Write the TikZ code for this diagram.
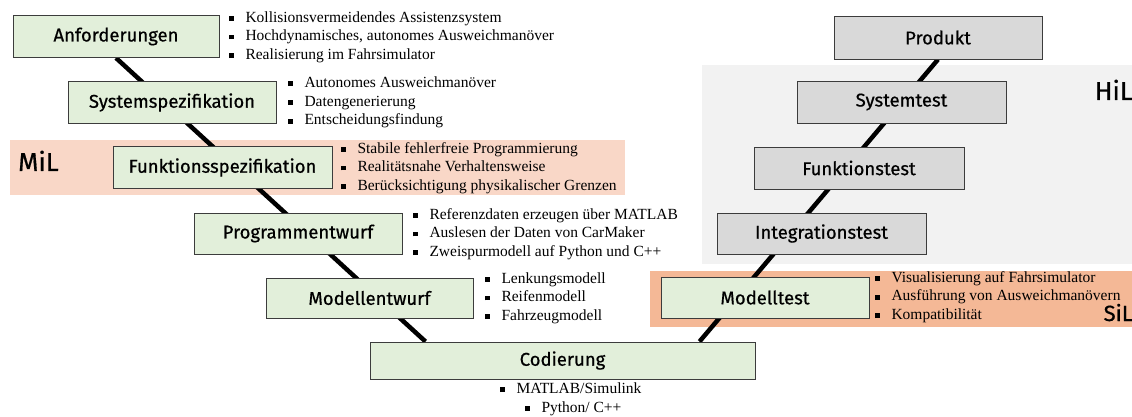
\documentclass[tikz,border=0pt]{standalone}
\usepackage{fontspec}
\setmainfont{Liberation Serif}
\newfontfamily\dinfont[FakeBold=0.6]{Fira Sans}
\usepackage{xcolor}
\usetikzlibrary{positioning, calc}
\pgfdeclarelayer{baender}
\pgfdeclarelayer{linien}
\pgfsetlayers{baender,linien,main}
\definecolor{gruen}{RGB}{226,239,218}
\definecolor{grau}{RGB}{217,217,217}
\definecolor{rahmen}{RGB}{60,60,60}
\definecolor{milfarbe}{RGB}{249,215,199}
\definecolor{hilfarbe}{RGB}{242,242,242}
\definecolor{silfarbe}{RGB}{244,184,150}
\newcommand{\blt}{\rule[1.3pt]{4.8pt}{4.8pt}\hspace{11.5pt}}

\begin{document}
\begin{tikzpicture}[x=1pt, y=-1pt,
    stufe/.style={draw=rahmen, line width=0.9pt, fill=gruen, minimum width=207pt,
        minimum height=42pt, inner sep=0pt, font=\dinfont\fontsize{18.5}{21}\selectfont},
    test/.style={stufe, fill=grau},
    punkte/.style={anchor=west, align=left, inner sep=0pt,
        font=\fontsize{15.5}{18.7}\selectfont},
    ebene/.style={inner sep=0pt, font=\dinfont\fontsize{26}{28}\selectfont},
    vlinie/.style={line width=4.5pt}]
\useasboundingbox (0,0) rectangle (1132,417);

% Testebenen
\begin{pgfonlayer}{baender}
\fill[milfarbe] (10,140) rectangle (625,195);
\fill[hilfarbe] (702,65) rectangle (1132,264);
\fill[silfarbe] (650,271) rectangle (1132,327);
\end{pgfonlayer}
\node[ebene, anchor=base west] (mil) at (18,171) {MiL};
\node[ebene, anchor=base east] (hil) at (1133,100) {HiL};
\node[ebene, anchor=base east, font=\dinfont\fontsize{22}{24}\selectfont] (sil) at (1133,321) {SiL};

% linker Ast
\node[stufe, minimum width=206pt] (anf) at (116,36.5) {Anforderungen};
\node[stufe, minimum width=208pt] (sys) at (172,102.5) {Systemspezifikation};
\node[stufe, minimum width=219pt] (fun) at (222.5,167.5) {Funktionsspezifikation};
\node[stufe, minimum width=208pt, minimum height=41pt] (prog) at (298,233.5) {Programmentwurf};
\node[stufe, minimum height=40pt] (mod) at (369.5,298) {Modellentwurf};
\node[stufe, minimum width=385pt, minimum height=37pt] (cod) at (562.5,360.5) {Codierung};

% rechter Ast
\node[test, minimum width=208pt, minimum height=43pt] (prod) at (938,37.5) {Produkt};
\node[test, minimum width=209pt] (syst) at (901.5,102) {Systemtest};
\node[test, minimum width=210pt] (funt) at (859,168) {Funktionstest};
\node[test, minimum width=209pt, minimum height=41pt] (integ) at (821.5,233.5) {Integrationstest};
\node[stufe, minimum width=208pt, minimum height=41pt] (modt) at (765,297.5) {Modelltest};

% V-Linie
\begin{pgfonlayer}{linien}
\draw[vlinie] (anf.south) -- ([xshift=-137pt]cod.north);
\draw[vlinie] ([xshift=137pt]cod.north) -- (prod.south);
\end{pgfonlayer}

% Stichpunkte
\node[punkte] (anfliste) at (229,37) {\blt Kollisionsvermeidendes Assistenzsystem\\
    \blt Hochdynamisches, autonomes Ausweichmanöver\\ \blt Realisierung im Fahrsimulator};
\node[punkte] (sysliste) at (288,102.5) {\blt Autonomes Ausweichmanöver\\
    \blt Datengenerierung\\ \blt Entscheidungsfindung};
\node[punkte] (funliste) at (341,168) {\blt Stabile fehlerfreie Programmierung\\
    \blt Realitätsnahe Verhaltensweise\\ \blt Berücksichtigung physikalischer Grenzen};
\node[punkte] (progliste) at (413,234) {\blt Referenzdaten erzeugen über MATLAB\\
    \blt Auslesen der Daten von CarMaker\\ \blt Zweispurmodell auf Python und C++};
\node[punkte] (modliste) at (485,298) {\blt Lenkungsmodell\\
    \blt Reifenmodell\\ \blt Fahrzeugmodell};
\node[punkte] (codliste) at (500,399) {\blt MATLAB/Simulink\\
    \hspace*{25pt}\blt Python/ C++};
\node[punkte] (modtliste) at (875,297) {\blt Visualisierung auf Fahrsimulator\\
    \blt Ausführung von Ausweichmanövern\\ \blt Kompatibilität};
\end{tikzpicture}
\end{document}
